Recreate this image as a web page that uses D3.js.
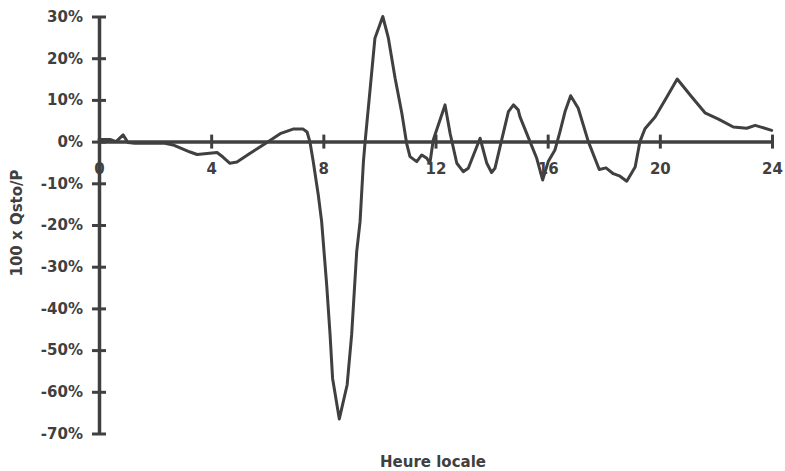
<!DOCTYPE html>
<html>
<head>
<meta charset="utf-8">
<script src="https://cdn.jsdelivr.net/npm/d3@7"></script>
<style>
  html, body { margin: 0; padding: 0; background: #fff; }
  svg { display: block; }
  text { font-family: "DejaVu Sans", sans-serif; font-weight: bold; fill: #404040; }
</style>
</head>
<body>
<svg id="chart" width="785" height="471"></svg>
<script>
// ---- data ----
const hours = [0, 0.39, 0.61, 0.86, 1.03, 1.28, 2.35, 2.64, 3.25, 3.5, 4.21, 4.42, 4.67, 4.92, 5.39, 5.99,
  6.46, 6.92, 7.28, 7.42, 7.52, 7.64, 7.82, 7.94, 8.12, 8.24, 8.33, 8.57, 8.85, 9.01, 9.19, 9.31, 9.43, 9.49,
  9.66, 9.84, 10.12, 10.32, 10.56, 10.8, 10.97, 11.09, 11.33, 11.51, 11.69, 11.8, 11.92, 12.34, 12.52, 12.76,
  12.99, 13.17, 13.59, 13.83, 14.0, 14.12, 14.36, 14.6, 14.78, 14.95, 15.01, 15.37, 15.61, 15.82, 16.02, 16.26,
  16.44, 16.62, 16.82, 17.09, 17.45, 17.84, 18.08, 18.34, 18.58, 18.82, 19.12, 19.29, 19.47, 19.83, 20.25,
  20.62, 21.14, 21.61, 22.09, 22.62, 23.1, 23.4, 23.99];
const qstoPct = [0.5, 0.5, 0, 1.6, -0.2, -0.4, -0.4, -0.8, -2.5, -3.1, -2.6, -3.7, -5.2, -4.9, -2.8, -0.2,
  1.9, 3.0, 3.0, 2.3, 0, -4.8, -12.8, -19.2, -34.4, -46.3, -56.8, -66.5, -58.3, -46.3, -26.4, -19.2, -4.8, 0,
  12, 24.8, 30, 24.8, 15.2, 6.8, -0.4, -3.6, -4.8, -3.2, -4.0, -5.2, 0.4, 8.8, 2.0, -5.2,
  -7.2, -6.4, 0.8, -5.2, -7.4, -6.4, 0.4, 7.2, 8.8, 7.6, 6.0, 0, -4.0, -9.2, -4.8, -2.0,
  2.4, 7.2, 11, 8, 0, -6.7, -6.3, -7.7, -8.3, -9.5, -6.1, 0, 3.1, 5.9, 10.7,
  15.0, 10.7, 6.9, 5.4, 3.5, 3.2, 3.9, 2.7];
const xTickValues = [0, 4, 8, 12, 16, 20, 24];
const yTickValues = [30, 20, 10, 0, -10, -20, -30, -40, -50, -60, -70];
const xTitle = "Heure locale";
const yTitle = "100 x Qsto/P";

// ---- drawing ----
const ink = "#404040";
const svg = d3.select("#chart");
const x = d3.scaleLinear().domain([0, 24]).range([99, 772]);
const y = d3.scaleLinear().domain([-70, 30]).range([433.5, 16.5]);

// data line
const data = hours.map((h, i) => ({ h, v: qstoPct[i] }));
svg.append("path")
  .datum(data)
  .attr("fill", "none")
  .attr("stroke", ink)
  .attr("stroke-width", 3)
  .attr("stroke-linejoin", "round")
  .attr("stroke-linecap", "round")
  .attr("d", d3.line().x(d => x(d.h)).y(d => y(d.v)));

// x axis (horizontal at 0%)
const gx = svg.append("g")
  .attr("transform", `translate(0,${y(0)})`)
  .call(d3.axisBottom(x).tickValues(xTickValues).tickFormat(d => d).tickSize(0).tickSizeOuter(0));
gx.select(".domain").attr("stroke", ink).attr("stroke-width", 3.5);
gx.selectAll(".tick").filter(d => d !== 0).append("line")
  .attr("y1", -7).attr("y2", 7).attr("stroke", ink).attr("stroke-width", 3);
gx.selectAll(".tick line").filter(function () { return !this.getAttribute("y1"); }).remove();
gx.selectAll(".tick text")
  .attr("y", 32).attr("dy", 0)
  .style("font-size", "15px").style("font-family", "DejaVu Sans").style("font-weight", "bold")
  .attr("fill", ink);

// y axis
const gy = svg.append("g")
  .attr("transform", `translate(${x(0)},0)`)
  .call(d3.axisLeft(y).tickValues(yTickValues).tickFormat(d => d + "%").tickSize(0).tickSizeOuter(0));
gy.select(".domain").attr("stroke", ink).attr("stroke-width", 3.5);
gy.selectAll(".tick line").remove();
gy.selectAll(".tick").append("line")
  .attr("x1", -7).attr("x2", 7).attr("stroke", ink).attr("stroke-width", 3);
gy.selectAll(".tick text")
  .attr("x", -16)
  .style("font-size", "15px").style("font-family", "DejaVu Sans").style("font-weight", "bold")
  .attr("fill", ink);

// axis titles
svg.append("text")
  .attr("x", 433).attr("y", 467)
  .attr("text-anchor", "middle")
  .style("font-size", "15px")
  .text(xTitle);
svg.append("text")
  .attr("transform", "translate(22,223) rotate(-90)")
  .attr("text-anchor", "middle")
  .style("font-size", "15px")
  .text(yTitle);
</script>
</body>
</html>
